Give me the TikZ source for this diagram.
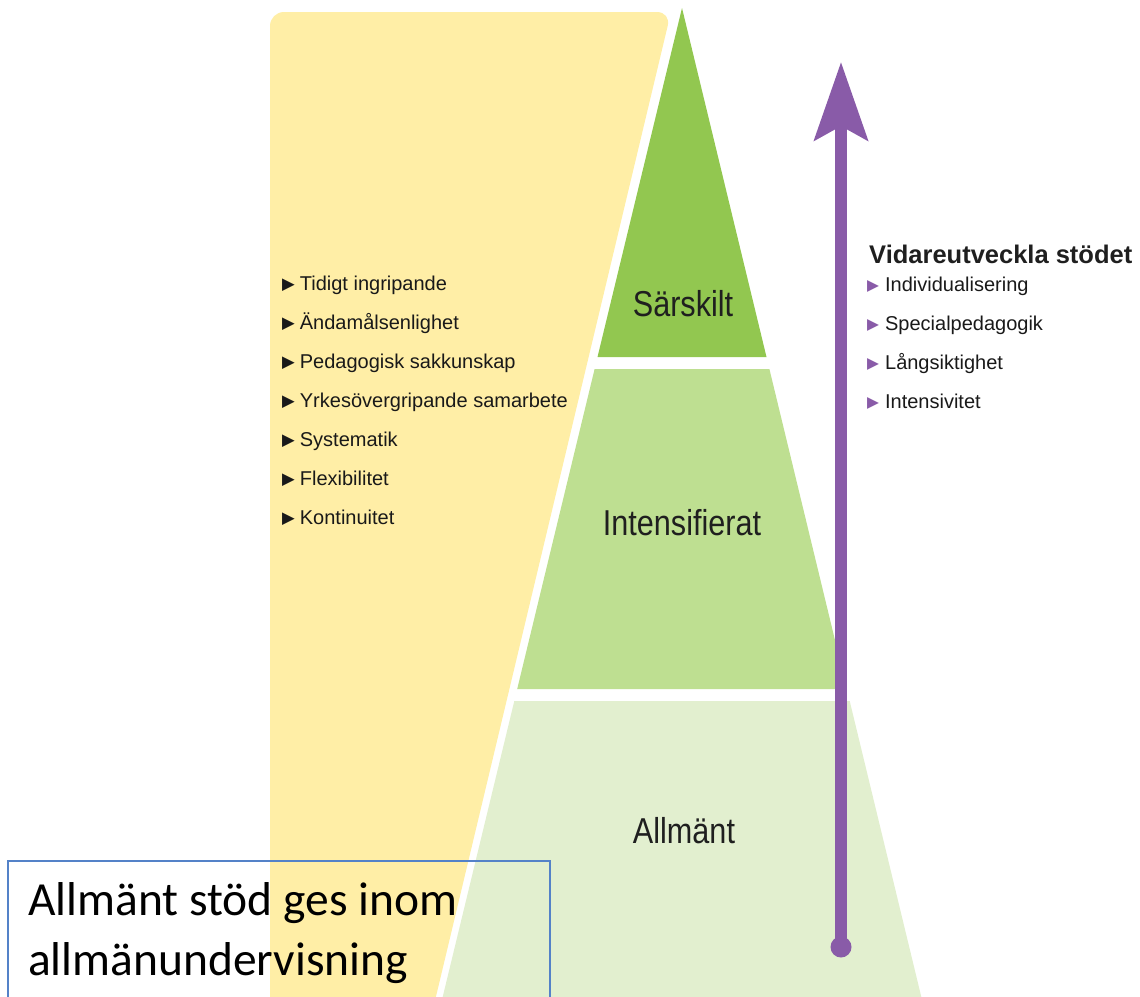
\documentclass[tikz,border=0pt]{standalone}
\usepackage{fontspec}
\setmainfont{Liberation Sans}
\newfontfamily\condfont{Liberation Sans}[FakeStretch=0.85]
\newfontfamily\symfont{DejaVu Sans}
\newfontfamily\calfont{Carlito}
\usetikzlibrary{arrows.meta}
\definecolor{yellowbg}{RGB}{255,238,166}
\definecolor{gdark}{RGB}{146,199,80}
\definecolor{gmid}{RGB}{190,223,145}
\definecolor{glight}{RGB}{226,239,207}
\definecolor{purp}{RGB}{137,91,168}
\definecolor{boxblue}{RGB}{84,130,200}
\tikzset{
  biglabel/.style={anchor=base, inner sep=0pt, font=\condfont\fontsize{36}{40}\selectfont, text=black!88},
  leftitem/.style={anchor=base west, inner sep=0pt, font=\fontsize{20}{24}\selectfont, text=black!90},
  rightitem/.style={anchor=base west, inner sep=0pt, font=\fontsize{20}{24}\selectfont, text=black!90},
  headtext/.style={anchor=base west, inner sep=0pt, font=\bfseries\fontsize{25.5}{30}\selectfont, text=black!88},
  boxtext/.style={anchor=base west, inner sep=0pt, font=\calfont\fontsize{47.5}{56}\selectfont},
}
\newcommand{\blkbul}{\raisebox{0.5pt}{\symfont\fontsize{16.5}{16}\selectfont ▶}\hspace{5pt}}
\newcommand{\purbul}{\raisebox{0.5pt}{\symfont\fontsize{15.5}{16}\selectfont\color{purp}▶}\hspace{6pt}}
\begin{document}
\begin{tikzpicture}[x=1pt,y=-1pt]
\useasboundingbox (0,0) rectangle (1140,996);
\clip (0,0) rectangle (1140,996);
% yellow panel
\fill[yellowbg, rounded corners=14pt] (270,1030) -- (270,12) -- (671,12) -- (428,1030) -- cycle;
% pyramid bands (apex (682,8), slope 0.242)
\fill[gdark] (682,8) -- (766.5,357) -- (597.5,357) -- cycle;
\fill[gmid] (594.6,369) -- (769.4,369) -- (846.8,689) -- (517.2,689) -- cycle;
\fill[glight] (514.3,701) -- (849.7,701) -- (926.9,1020) -- (437.1,1020) -- cycle;
% band labels
\node[biglabel] (sar) at (683,316) {Särskilt};
\node[biglabel] (int) at (682,535) {Intensifierat};
\node[biglabel] (all) at (684,843) {Allmänt};
% left list
\node[leftitem] (l1) at (282,290) {\blkbul Tidigt ingripande};
\node[leftitem] (l2) at (282,329) {\blkbul Ändamålsenlighet};
\node[leftitem] (l3) at (282,368) {\blkbul Pedagogisk sakkunskap};
\node[leftitem] (l4) at (282,407) {\blkbul Yrkesövergripande samarbete};
\node[leftitem] (l5) at (282,446) {\blkbul Systematik};
\node[leftitem] (l6) at (282,485) {\blkbul Flexibilitet};
\node[leftitem] (l7) at (282,524) {\blkbul Kontinuitet};
% arrow
\node[circle, fill=purp, minimum size=21pt, inner sep=0pt] (dot) at (841,947) {};
\coordinate (atop) at (841,62);
\draw[purp, line width=12pt, -{Stealth[length=78pt,width=53pt,inset=14pt]}] (dot.center) -- (atop);
% right list
\node[headtext] (head) at (869,263) {Vidareutveckla stödet};
\node[rightitem] (r1) at (867,291) {\purbul Individualisering};
\node[rightitem] (r2) at (867,330) {\purbul Specialpedagogik};
\node[rightitem] (r3) at (867,369) {\purbul Långsiktighet};
\node[rightitem] (r4) at (867,408) {\purbul Intensivitet};
% bottom box
\node[draw=boxblue, line width=1.6pt, anchor=north west, minimum width=542pt, minimum height=160pt, inner sep=0pt] (box) at (7,860) {};
\node[boxtext] (bt1) at (28,915) {Allmänt stöd ges inom};
\node[boxtext] (bt2) at (28,975) {allmänundervisning};
\end{tikzpicture}
\end{document}
